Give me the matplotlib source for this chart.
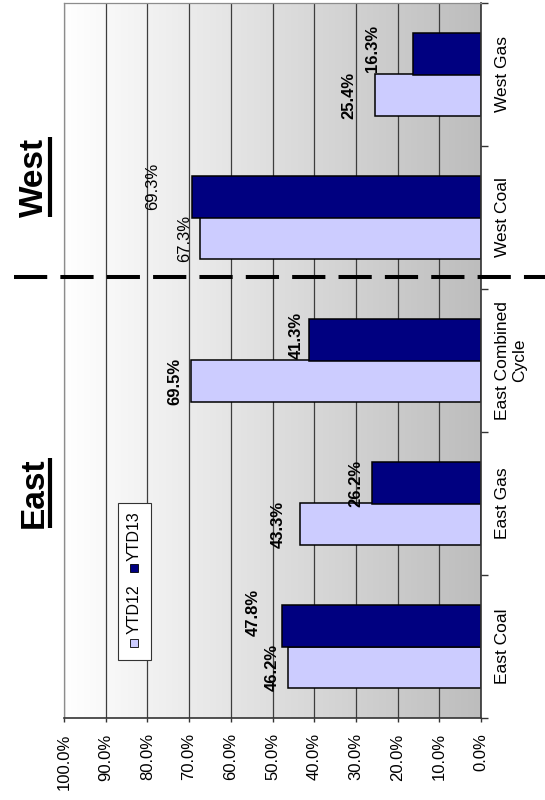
import numpy as np
import matplotlib
matplotlib.use("Agg")
import matplotlib.pyplot as plt
from matplotlib.colors import LinearSegmentedColormap
from matplotlib.patches import Rectangle
from matplotlib.lines import Line2D

plt.rcParams['font.family'] = ['Liberation Sans', 'DejaVu Sans']

categories = ['East Coal', 'East Gas', 'East Combined\nCycle', 'West Coal', 'West Gas']
ytd12 = [46.2, 43.3, 69.5, 67.3, 25.4]
ytd13 = [47.8, 26.2, 41.3, 69.3, 16.3]
series_names = ['YTD12', 'YTD13']
value_ticks = np.arange(0, 101, 10)

# the labels were placed by hand in the original, nudges in pixels
off12 = [(-16, 0), (-22, 0), (-16, 0), (-16, 0), (-26, 0)]
off13 = [(-28, 14), (-16, 0), (-13, 5), (-39, 11), (-41, 6)]
wt12 = ['bold', 'bold', 'bold', 'normal', 'bold']
wt13 = ['bold', 'bold', 'bold', 'normal', 'bold']

light = '#ccccff'
dark = '#000080'

W, H = 545, 800
fig = plt.figure(figsize=(W / 100, H / 100), dpi=100)


def fx(px):
    return px / W


def fy(py):
    return 1 - py / H


ax = fig.add_axes([fx(64), fy(718), fx(481) - fx(64), fy(3) - fy(718)])

# grey gradient behind the plot
bg = LinearSegmentedColormap.from_list('bg', ['#ffffff', '#bdbdbd'])
ax.imshow(np.linspace(0, 1, 256)[None, :], extent=[100, 0, -0.5, 4.5],
          cmap=bg, aspect='auto', zorder=0, interpolation='bilinear')

pos = np.arange(len(categories))
w = 0.287
ax.barh(pos - w / 2, ytd12, height=w, color=light, edgecolor='black', lw=1.1, zorder=2)
ax.barh(pos + w / 2, ytd13, height=w, color=dark, edgecolor='black', lw=1.1, zorder=2)

for i in range(len(categories)):
    ax.annotate(f'{ytd12[i]:.1f}%', xy=(ytd12[i], pos[i] - w / 2), xytext=off12[i],
                textcoords='offset pixels', rotation=90, ha='center', va='center',
                fontsize=12, fontweight=wt12[i], zorder=5)
    ax.annotate(f'{ytd13[i]:.1f}%', xy=(ytd13[i], pos[i] + w / 2), xytext=off13[i],
                textcoords='offset pixels', rotation=90, ha='center', va='center',
                fontsize=12, fontweight=wt13[i], zorder=5)

ax.set_xlim(100, 0)
ax.set_ylim(-0.5, 4.5)
ax.set_axisbelow(True)
ax.grid(axis='x', color='#3d3d3d', lw=0.9)
ax.grid(axis='y', visible=False)

ax.set_xticks(value_ticks, [f'{v:.1f}%' for v in value_ticks], rotation=90, fontsize=12)
ax.tick_params(axis='x', direction='out', length=3, pad=8, width=1, color='#333333')

ax.yaxis.tick_right()
ax.set_yticks(np.arange(-0.5, 4.6, 1))
ax.set_yticks(pos, categories, minor=True)
ax.tick_params(axis='y', which='major', length=5, direction='out', width=1,
               color='#333333', labelright=False)
ax.tick_params(axis='y', which='minor', length=0, pad=10, labelsize=12.5)
for lab in ax.get_yticklabels(minor=True):
    lab.set_rotation(90)
    lab.set_va('center')
    lab.set_ha('left')
    lab.set_multialignment('center')

for s in ['right', 'bottom']:
    ax.spines[s].set_color('#333333')
    ax.spines[s].set_linewidth(1.2)
for s in ['left', 'top']:
    ax.spines[s].set_color('#8c8c8c')
    ax.spines[s].set_linewidth(0.9)

# legend, drawn by hand because it is turned on its side
fig.add_artist(Rectangle((fx(118), fy(660)), fx(151) - fx(118), fy(503) - fy(660),
                         transform=fig.transFigure, facecolor='white',
                         edgecolor='#333333', lw=0.8, zorder=6))
for name, col, ysq, ytx in [(series_names[0], light, 643, 609),
                            (series_names[1], dark, 568, 536)]:
    fig.add_artist(Rectangle((fx(130), fy(ysq + 4)), 8 / W, 8 / H,
                             transform=fig.transFigure, facecolor=col,
                             edgecolor='black', lw=0.6, zorder=7))
    fig.text(fx(134), fy(ytx), name, rotation=90, ha='center', va='center',
             fontsize=11.5, zorder=7)

# region titles
titles = []
for name, yc in [('West', 177), ('East', 493)]:
    titles.append(fig.text(fx(34), fy(yc), name, rotation=90, ha='center', va='center',
                           fontsize=24, fontweight='bold'))

fig.canvas.draw()
r = fig.canvas.get_renderer()
for t in titles:
    bb = t.get_window_extent(r)
    fig.add_artist(Line2D([fx(50), fx(50)], [bb.y0 / H, bb.y1 / H],
                          transform=fig.transFigure, color='black', lw=3,
                          solid_capstyle='butt'))

# divider between east and west
lw = 2.9
fig.add_artist(Line2D([fx(14), 1.0], [fy(276.7), fy(276.7)], transform=fig.transFigure,
                      color='black', lw=lw, dashes=(8.25, 3.26), dash_capstyle='butt',
                      zorder=10))

fig.savefig('out.png', dpi=100)
